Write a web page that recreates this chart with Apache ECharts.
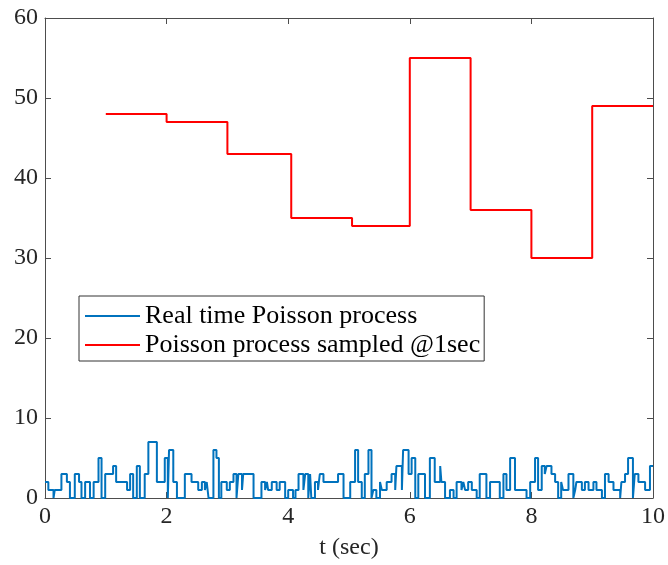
<!DOCTYPE html>
<html><head><meta charset="utf-8">
<script src="https://cdn.jsdelivr.net/npm/echarts@6/dist/echarts.min.js"></script>
<style>html,body{margin:0;padding:0;background:#fff}#c{width:668px;height:565px}</style>
</head><body><div id="c"></div>
<script>
var xTicks = [0, 2, 4, 6, 8, 10];
var yTicks = [0, 10, 20, 30, 40, 50, 60];
var sampledT = [1, 2, 3, 4.05, 5.05, 6, 7, 8, 9, 10];
var sampledV = [48, 47, 43, 35, 34, 55, 36, 30, 49, 49];
var realT = [0.00,0.055,0.14,0.16,0.27,0.36,0.41,0.49,0.56,0.60,0.66,0.74,0.80,0.88,0.93,0.99,1.12,1.17,1.35,1.40,1.45,1.51,1.56,1.64,
1.70,1.84,1.97,2.02,2.04,2.11,2.17,2.30,2.41,2.52,2.58,2.63,2.66,2.69,2.77,2.82,2.86,2.90,2.99,3.04,3.10,3.15,3.18,3.24,3.26,
3.43,3.56,3.62,3.65,3.67,3.73,3.81,3.86,3.95,4.00,4.08,4.12,4.17,4.25,4.28,4.33,4.36,4.38,4.44,4.49,4.52,4.58,4.82,4.91,5.02,
5.10,5.15,5.21,5.26,5.32,5.37,5.40,5.45,5.51,5.54,5.62,5.70,5.76,5.78,5.87,5.89,5.98,6.03,6.09,6.14,6.25,6.33,6.41,6.50,6.52,6.58,6.66,6.72,6.77,6.85,6.88,
6.91,6.96,7.02,7.10,7.15,7.26,7.32,7.48,7.54,7.59,7.65,7.73,7.92,7.98,8.06,8.11,8.17,8.22,8.25,8.33,8.39,8.44,8.49,
8.52,8.61,8.69,8.72,8.74,8.83,8.88,8.94,9.02,9.07,9.16,9.21,9.27,9.35,9.46,9.48,9.54,9.59,9.67,9.70,9.76,9.87,9.95,10];
var realV = [2,1,0,1,3,2,0,3,2,0,2,0,2,5,0,3,4,2,1,3,0,4,0,3,
7,2,5,0,6,2,0,3,2,1,2,1,2,0,6,5,0,2,1,2,3,0,3,1,3,
0,2,1,2,1,2,1,2,0,1,0,1,3,1,3,0,3,0,2,1,3,2,3,0,2,
6,2,0,3,6,0,1,0,2,1,2,3,1,4,1,6,3,5,0,3,0,5,2,4,2,0,1,0,2,1,2,
1,2,1,0,3,0,2,0,3,1,5,1,0,2,5,1,4,3,4,3,2,0,2,
1,3,0,1,2,1,2,1,2,1,0,3,2,1,0,2,3,5,0,3,2,1,4,4];

function zip(a, b) { return a.map(function (v, i) { return [v, b[i]]; }); }

var font = 'Liberation Serif';
var axisCol = '#4d4d4d';
var chart = echarts.init(document.getElementById('c'));
chart.setOption({
  animation: false,
  backgroundColor: '#fff',
  grid: { left: 45, right: 15, top: 18, bottom: 67, containLabel: false },
  legend: {
    orient: 'vertical', left: 79, top: 296,
    padding: [7, 4, 3, 6],
    borderColor: '#333', borderWidth: 1, backgroundColor: '#fff',
    itemWidth: 55, itemHeight: 2, itemGap: 3, icon: 'rect',
    textStyle: { fontFamily: font, fontSize: 26, color: '#000', lineHeight: 26 },
    data: ['Real time Poisson process', 'Poisson process sampled @1sec']
  },
  xAxis: [{
    type: 'value', min: 0, max: 10, interval: 2,
    name: 't (sec)', nameLocation: 'middle', nameGap: 38,
    nameTextStyle: { fontFamily: font, fontSize: 24, color: '#262626' },
    axisLine: { show: true, onZero: false, lineStyle: { color: axisCol, width: 1 } },
    axisTick: { show: true, inside: true, length: 6, lineStyle: { color: axisCol } },
    axisLabel: { fontFamily: font, fontSize: 24, color: '#262626', margin: 7,
      formatter: function (v) { return xTicks.indexOf(v) >= 0 ? String(v) : ''; } },
    splitLine: { show: false }
  }, {
    type: 'value', min: 0, max: 10, interval: 2, position: 'top',
    axisLine: { show: true, onZero: false, lineStyle: { color: axisCol, width: 1 } },
    axisTick: { show: true, inside: true, length: 6, lineStyle: { color: axisCol } },
    axisLabel: { show: false }, splitLine: { show: false }
  }],
  yAxis: [{
    type: 'value', min: 0, max: 60, interval: 10,
    axisLine: { show: true, onZero: false, lineStyle: { color: axisCol, width: 1 } },
    axisTick: { show: true, inside: true, length: 6, lineStyle: { color: axisCol } },
    axisLabel: { fontFamily: font, fontSize: 24, color: '#262626', margin: 7,
      formatter: function (v) { return yTicks.indexOf(v) >= 0 ? String(v) : ''; } },
    splitLine: { show: false }
  }, {
    type: 'value', min: 0, max: 60, interval: 10, position: 'right',
    axisLine: { show: true, onZero: false, lineStyle: { color: axisCol, width: 1 } },
    axisTick: { show: true, inside: true, length: 6, lineStyle: { color: axisCol } },
    axisLabel: { show: false }, splitLine: { show: false }
  }],
  series: [{
    name: 'Real time Poisson process', type: 'line', step: 'end',
    data: zip(realT, realV), showSymbol: false, symbol: 'none',
    lineStyle: { color: '#0072BD', width: 2 }, itemStyle: { color: '#0072BD' }
  }, {
    name: 'Poisson process sampled @1sec', type: 'line', step: 'end',
    data: zip(sampledT, sampledV), showSymbol: false, symbol: 'none',
    lineStyle: { color: '#FF0000', width: 2 }, itemStyle: { color: '#FF0000' }
  }]
});
</script></body></html>
